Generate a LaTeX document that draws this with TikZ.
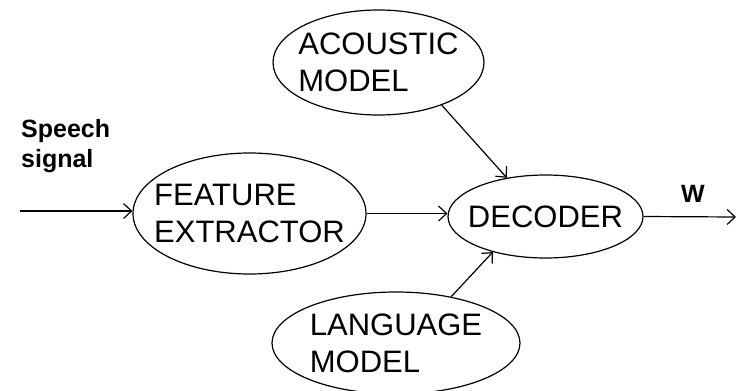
\documentclass[tikz,border=0pt]{standalone}
\usepackage{fontspec}
\setmainfont{Liberation Sans}
\usetikzlibrary{shapes.geometric,arrows.meta}
\tikzset{
  ell/.style={ellipse, draw, line width=1.2pt, inner sep=0pt},
  big/.style={font=\fontsize{31}{37}\selectfont, align=left, inner sep=0pt},
  small/.style={font=\bfseries\fontsize{25}{30}\selectfont, align=left, inner sep=0pt},
  arr/.style={line width=1.2pt, -{Straight Barb[length=8pt,width=15pt]}}
}
\begin{document}
\begin{tikzpicture}[x=1pt,y=-1pt]
\useasboundingbox (0,0) rectangle (742,391);
\node[ell, minimum width=211pt, minimum height=105pt, label={[big]center:ACOUSTIC\\MODEL}] (ac) at (378.5,62.5) {};
\node[ell, minimum width=233pt, minimum height=121pt, label={[big]center:FEATURE\\EXTRACTOR}] (fe) at (249.5,213.5) {};
\node[ell, minimum width=195pt, minimum height=83pt, label={[big]center:DECODER}] (dec) at (545.5,216.5) {};
\node[ell, minimum width=248pt, minimum height=102pt, label={[big]center:LANGUAGE\\MODEL}] (lg) at (396,343) {};
\node[small, anchor=base west] (sp) at (21,167) {Speech\\signal};
\node[small, anchor=base] (w) at (693,202) {W};
\coordinate (in) at (20,211);
\coordinate (out) at (736,217);
\draw[arr] (in) -- (in -| fe.west);
\draw[arr] (fe.east) -- (fe.east -| dec.west);
\draw[arr] (ac.-34) -- (dec.135);
\draw[arr] (lg.40) -- (dec.214);
\draw[arr] (dec.east) -- (out);
\end{tikzpicture}
\end{document}
